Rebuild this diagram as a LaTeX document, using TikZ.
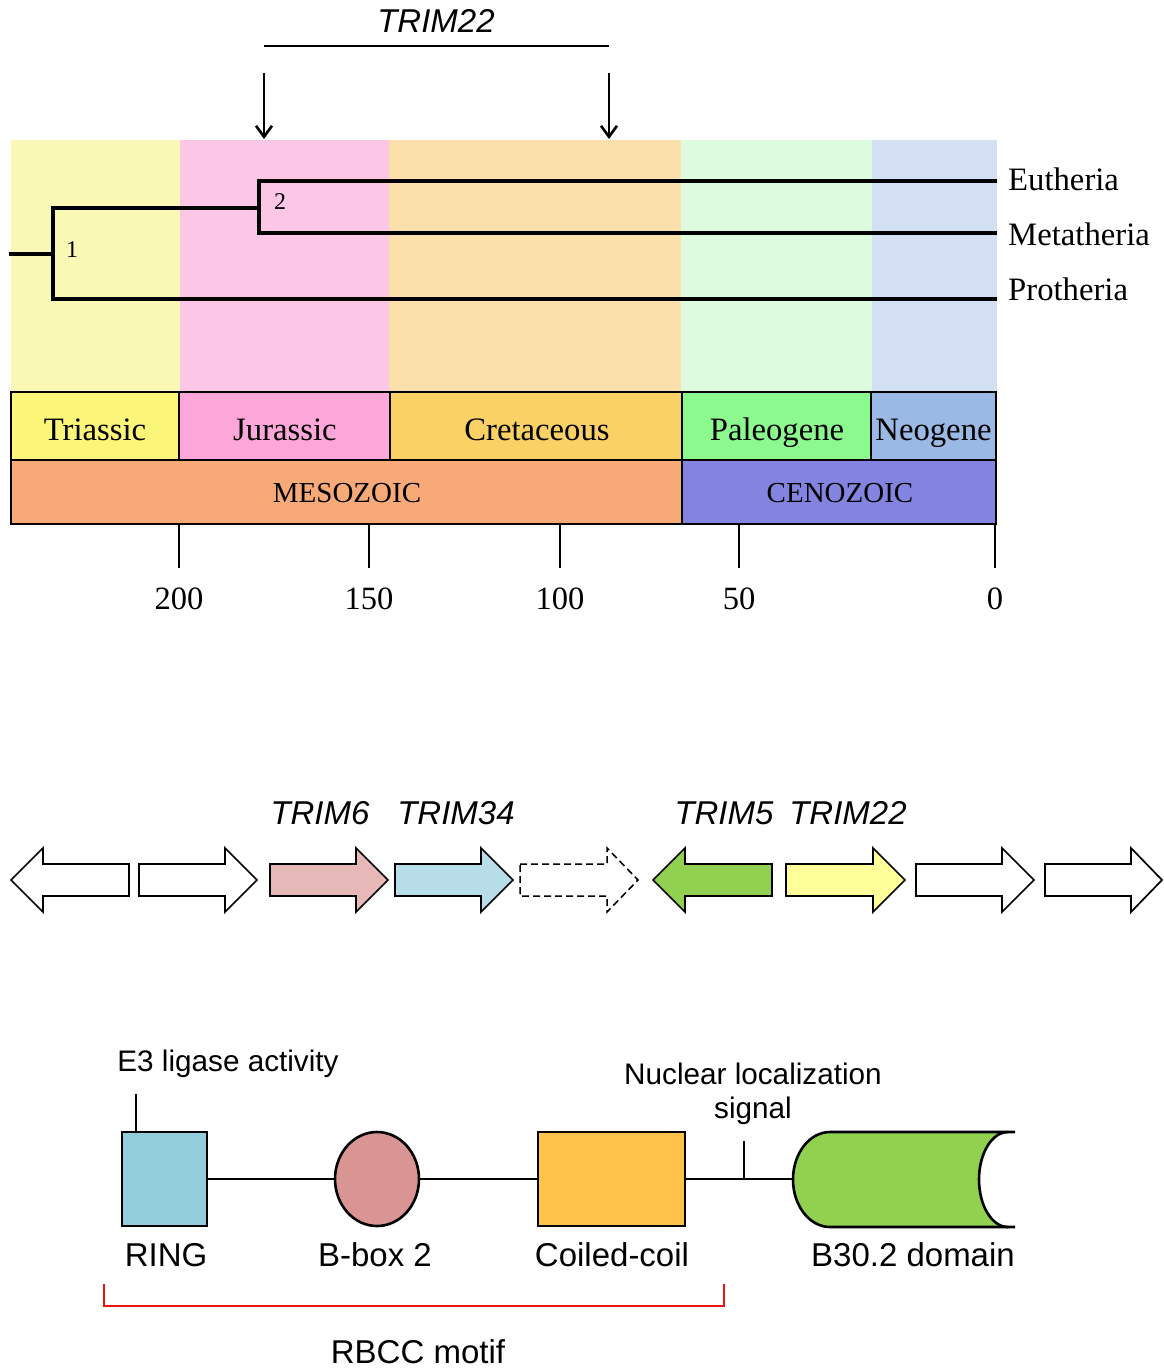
\documentclass[tikz,border=0pt]{standalone}
\usepackage{fontspec}
\setmainfont{Liberation Serif}
\setsansfont{Liberation Sans}
\usetikzlibrary{arrows.meta,shapes.geometric}
\definecolor{bgTri}{HTML}{FAF8B5}
\definecolor{bgJur}{HTML}{FCC6E6}
\definecolor{bgCre}{HTML}{FBE0AB}
\definecolor{bgPal}{HTML}{DDFBDE}
\definecolor{bgNeo}{HTML}{D3E0F3}
\definecolor{cTri}{HTML}{FBF57A}
\definecolor{cJur}{HTML}{FCA6D9}
\definecolor{cCre}{HTML}{FAD165}
\definecolor{cPal}{HTML}{8CF98F}
\definecolor{cNeo}{HTML}{9AB9E5}
\definecolor{cMes}{HTML}{F7AA78}
\definecolor{cCen}{HTML}{8383E0}
\definecolor{aPink}{HTML}{E6B8B7}
\definecolor{aBlue}{HTML}{B7DEE8}
\definecolor{aGreen}{HTML}{92D050}
\definecolor{aYellow}{HTML}{FFFF99}
\definecolor{dRing}{HTML}{92CDDC}
\definecolor{dBbox}{HTML}{D99594}
\definecolor{dCC}{HTML}{FFC34B}
\definecolor{dB30}{HTML}{92D050}
\definecolor{bRed}{HTML}{EE1111}
\newcommand{\genR}[4]{\draw[genearrow,#4] (#1,864) -- (#2,864) -- (#2,848) -- (#3,880) -- (#2,912) -- (#2,896) -- (#1,896) -- cycle;}
\newcommand{\genL}[4]{\draw[genearrow,#4] (#1,864) -- (#2,864) -- (#2,848) -- (#3,880) -- (#2,912) -- (#2,896) -- (#1,896) -- cycle;}
\begin{document}
\begin{tikzpicture}[x=1pt,y=-1pt,
  serifbig/.style={font=\fontsize{32.7}{38}\selectfont, inner sep=0pt},
  serifera/.style={font=\fontsize{29}{34}\selectfont, inner sep=0pt},
  seriftick/.style={font=\fontsize{32.5}{38}\selectfont, inner sep=0pt},
  serifsmall/.style={font=\fontsize{24}{28}\selectfont, inner sep=0pt},
  sanslab/.style={font=\sffamily\fontsize{33}{38}\selectfont, inner sep=0pt},
  sanssmall/.style={font=\sffamily\fontsize{29.7}{35}\selectfont, inner sep=0pt},
  genelab/.style={font=\sffamily\itshape\fontsize{33}{38}\selectfont, inner sep=0pt},
  tree/.style={line width=3.2pt, line cap=rect},
  periodbox/.style={draw=black, line width=1.2pt},
  tickline/.style={line width=1.3pt},
  genearrow/.style={draw=black, line width=1.7pt, line join=miter},
  dombox/.style={draw=black, line width=2.6pt},
  linker/.style={line width=2.2pt},
  downarrow/.style={line width=1.4pt,-{Straight Barb[length=11pt,width=16pt,line width=2.6pt]}}
]
\useasboundingbox (0,0) rectangle (1163,1370);
% ---------- top: TRIM22 ----------
\node[genelab, anchor=base] (ttop) at (436,33) {TRIM22};
\coordinate (tl) at (264,46); \coordinate (tr) at (609,46);
\draw[line width=1.3pt] (tl) -- (tr);
\coordinate (a1s) at (264,73); \coordinate (a1e) at (264,139);
\coordinate (a2s) at (609,73); \coordinate (a2e) at (609,139);
\draw[downarrow] (a1s) -- (a1e);
\draw[downarrow] (a2s) -- (a2e);
% ---------- background bands ----------
\fill[bgTri] (11,140) rectangle (180,392);
\fill[bgJur] (180,140) rectangle (389,392);
\fill[bgCre] (389,140) rectangle (681,392);
\fill[bgPal] (681,140) rectangle (872,392);
\fill[bgNeo] (872,140) rectangle (997,392);
% ---------- tree ----------
\coordinate (root) at (11,254);
\coordinate (n1) at (53,254);
\coordinate (n1t) at (53,208);
\coordinate (n1b) at (53,299);
\coordinate (n2) at (259,208);
\coordinate (n2t) at (259,181);
\coordinate (n2b) at (259,233);
\coordinate (eut) at (995,181);
\coordinate (met) at (995,233);
\coordinate (pro) at (995,299);
\draw[tree] (root) -- (n1);
\draw[tree] (n1t) -- (n1b);
\draw[tree] (n1t) -- (n2);
\draw[tree] (n2t) -- (n2b);
\draw[tree] (n2t) -- (eut);
\draw[tree] (n2b) -- (met);
\draw[tree] (n1b) -- (pro);
\node[serifsmall, anchor=base] (l1) at (72,257) {1};
\node[serifsmall, anchor=base] (l2) at (280,209) {2};
\node[serifbig, anchor=base west] (teut) at (1008,190) {Eutheria};
\node[serifbig, anchor=base west] (tmet) at (1008,245) {Metatheria};
\node[serifbig, anchor=base west] (tpro) at (1008,300) {Protheria};
% ---------- period boxes ----------
\draw[periodbox, fill=cTri] (11,392) rectangle (179,460);
\draw[periodbox, fill=cJur] (179,392) rectangle (390,460);
\draw[periodbox, fill=cCre] (390,392) rectangle (682,460);
\draw[periodbox, fill=cPal] (682,392) rectangle (871,460);
\draw[periodbox, fill=cNeo] (871,392) rectangle (996,460);
\node[serifbig, anchor=base] (ptri) at (95,440) {Triassic};
\node[serifbig, anchor=base] (pjur) at (285,440) {Jurassic};
\node[serifbig, anchor=base] (pcre) at (537,440) {Cretaceous};
\node[serifbig, anchor=base] (ppal) at (777,440) {Paleogene};
\node[serifbig, anchor=base] (pneo) at (933.5,440) {Neogene};
\draw[periodbox, fill=cMes] (11,460) rectangle (682,524);
\draw[periodbox, fill=cCen] (682,460) rectangle (996,524);
\node[serifera, anchor=base] (emes) at (347,502) {MESOZOIC};
\node[serifera, anchor=base] (ecen) at (840,502) {CENOZOIC};
% ---------- ticks ----------
\foreach \xx/\lab/\nm in {179/200/t200, 369/150/t150, 560/100/t100, 739/50/t50, 995/0/t0}{
  \coordinate (\nm a) at (\xx,524); \coordinate (\nm b) at (\xx,568);
  \draw[tickline] (\nm a) -- (\nm b);
  \node[seriftick, anchor=base] (\nm) at (\xx,609) {\lab};
}
% ---------- gene cluster ----------
\node[genelab, anchor=base] (g6) at (320,824) {TRIM6};
\node[genelab, anchor=base] (g34) at (456,824) {TRIM34};
\node[genelab, anchor=base] (g5) at (724,824) {TRIM5};
\node[genelab, anchor=base] (g22) at (848,824) {TRIM22};
\genL{129}{43}{11}{fill=white}
\genR{139}{225}{257}{fill=white}
\genR{270}{356}{388}{fill=aPink}
\genR{395}{481}{513}{fill=aBlue}
\genR{520}{607}{638}{fill=none, dashed, dash pattern=on 7pt off 4pt, line width=1.5pt}
\genL{772}{685}{653}{fill=aGreen}
\genR{786}{873}{905}{fill=aYellow}
\genR{916}{1002}{1034}{fill=white}
\genR{1045}{1131}{1162}{fill=white}
% ---------- domain structure ----------
\node[dombox, fill=dRing, rectangle, minimum width=85pt, minimum height=94pt, inner sep=0pt] (ring) at (164.5,1179) {};
\node[dombox, fill=dBbox, ellipse, minimum width=84pt, minimum height=94pt, inner sep=0pt] (bbox) at (377,1179) {};
\node[dombox, fill=dCC, rectangle, minimum width=147pt, minimum height=94pt, inner sep=0pt] (cc) at (611.5,1179) {};
\coordinate (b30w) at (793,1179);
\fill[dB30] (830,1132) arc[start angle=90, end angle=270, x radius=37pt, y radius=47.5pt] -- (1008,1227) arc[start angle=270, end angle=90, x radius=29pt, y radius=47.5pt] -- cycle;
\draw[dombox, line join=round] (1015,1132) -- (830,1132) arc[start angle=90, end angle=270, x radius=37pt, y radius=47.5pt] -- (1015,1227);
\draw[dombox] (1008,1227) arc[start angle=270, end angle=90, x radius=29pt, y radius=47.5pt];
\draw[linker] (ring.east) -- (bbox.west);
\draw[linker] (bbox.east) -- (cc.west);
\draw[linker] (cc.east) -- (b30w);
\coordinate (e3a) at (136,1094); \coordinate (e3b) at (136,1132);
\draw[line width=1.3pt] (e3a) -- (e3b);
\coordinate (nlsa) at (744,1141); \coordinate (nlsb) at (744,1179);
\draw[line width=1.3pt] (nlsa) -- (nlsb);
\node[sanssmall, anchor=base] (e3) at (228,1071) {E3 ligase activity};
\node[sanssmall, anchor=base] (nls1) at (753,1084) {Nuclear localization};
\node[sanssmall, anchor=base] (nls2) at (753,1118) {signal};
\node[sanslab, anchor=base] (lring) at (166,1266) {RING};
\node[sanslab, anchor=base] (lbbox) at (375,1266) {B-box 2};
\node[sanslab, anchor=base] (lcc) at (612,1266) {Coiled-coil};
\node[sanslab, anchor=base] (lb30) at (913,1266) {B30.2 domain};
\coordinate (bl) at (104,1284); \coordinate (blb) at (104,1306);
\coordinate (br) at (724,1284); \coordinate (brb) at (724,1306);
\draw[bRed, line width=2pt] (bl) -- (blb) -- (brb) -- (br);
\node[sanslab, anchor=base] (rbcc) at (418,1363) {RBCC motif};
\end{tikzpicture}
\end{document}
